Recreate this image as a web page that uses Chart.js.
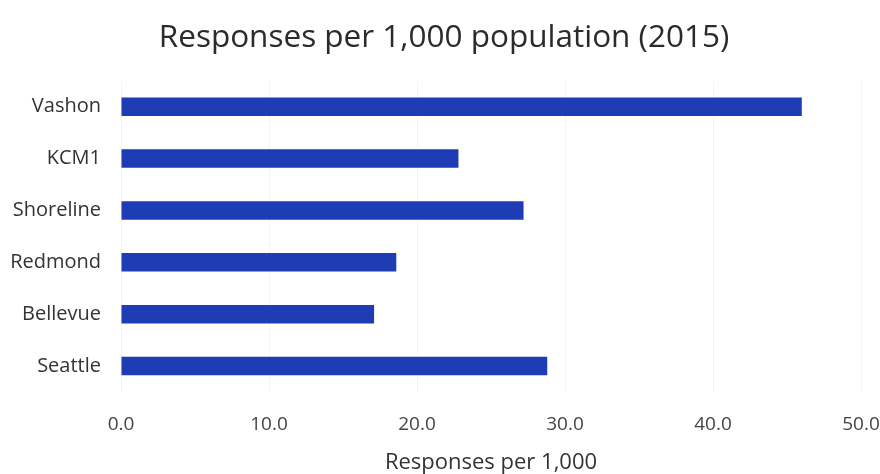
<!DOCTYPE html>
<html>
<head>
<meta charset="utf-8">
<script src="https://cdn.jsdelivr.net/npm/chart.js@4/dist/chart.umd.min.js"></script>
<style>
  html, body { margin: 0; padding: 0; background: #ffffff; }
  #wrap { width: 880px; height: 474px; position: relative; }
</style>
</head>
<body>
<div id="wrap"><canvas id="chart" width="880" height="474"></canvas></div>
<script>
// Emergency responses per 1,000 residents, by service area (2015)
const categories = ["Vashon", "KCM1", "Shoreline", "Redmond", "Bellevue", "Seattle"];
const responses = [46.0, 22.8, 27.2, 18.6, 17.1, 28.8];
const xTicks = [0, 10, 20, 30, 40, 50];

const FONT = "'Open Sans', 'Liberation Sans', sans-serif";

new Chart(document.getElementById("chart"), {
  type: "bar",
  data: {
    labels: categories,
    datasets: [{
      label: "Responses per 1,000",
      data: responses,
      backgroundColor: "#1e3cb4",
      borderWidth: 0,
      categoryPercentage: 0.7,
      barPercentage: 0.51
    }]
  },
  options: {
    indexAxis: "y",
    responsive: false,
    animation: false,
    layout: { padding: { left: 8, right: 0, top: 0, bottom: 0 } },
    plugins: {
      legend: { display: false },
      tooltip: { enabled: false },
      title: {
        display: true,
        text: "Responses per 1,000 population (2015)",
        color: "#2b2b2b",
        font: { family: FONT, size: 31.5, weight: "normal", lineHeight: 1.2 },
        padding: { top: 19, bottom: 24 }
      }
    },
    scales: {
      x: {
        min: xTicks[0],
        max: xTicks[xTicks.length - 1],
        afterBuildTicks: (axis) => { axis.ticks = xTicks.map(v => ({ value: v })); },
        afterFit: (axis) => {
          axis.height = 82;
          axis.paddingLeft = 0;
          axis.paddingRight = 19;
        },
        grid: { color: "#f4f4f4", drawTicks: false },
        border: { display: false },
        ticks: {
          color: "#444",
          padding: 21,
          font: { family: FONT, size: 19, lineHeight: 1.2 },
          callback: (v) => Number(v).toFixed(1)
        },
        title: {
          display: true,
          text: "Responses per 1,000",
          color: "#333",
          font: { family: FONT, size: 22, lineHeight: 1.0 },
          padding: { top: 0, bottom: 0 }
        }
      },
      y: {
        afterFit: (axis) => { axis.width = 113; },
        grid: { display: false, drawTicks: false },
        border: { display: false },
        ticks: {
          color: "#333",
          padding: 20,
          font: { family: FONT, size: 20 }
        }
      }
    }
  }
});
</script>
</body>
</html>
